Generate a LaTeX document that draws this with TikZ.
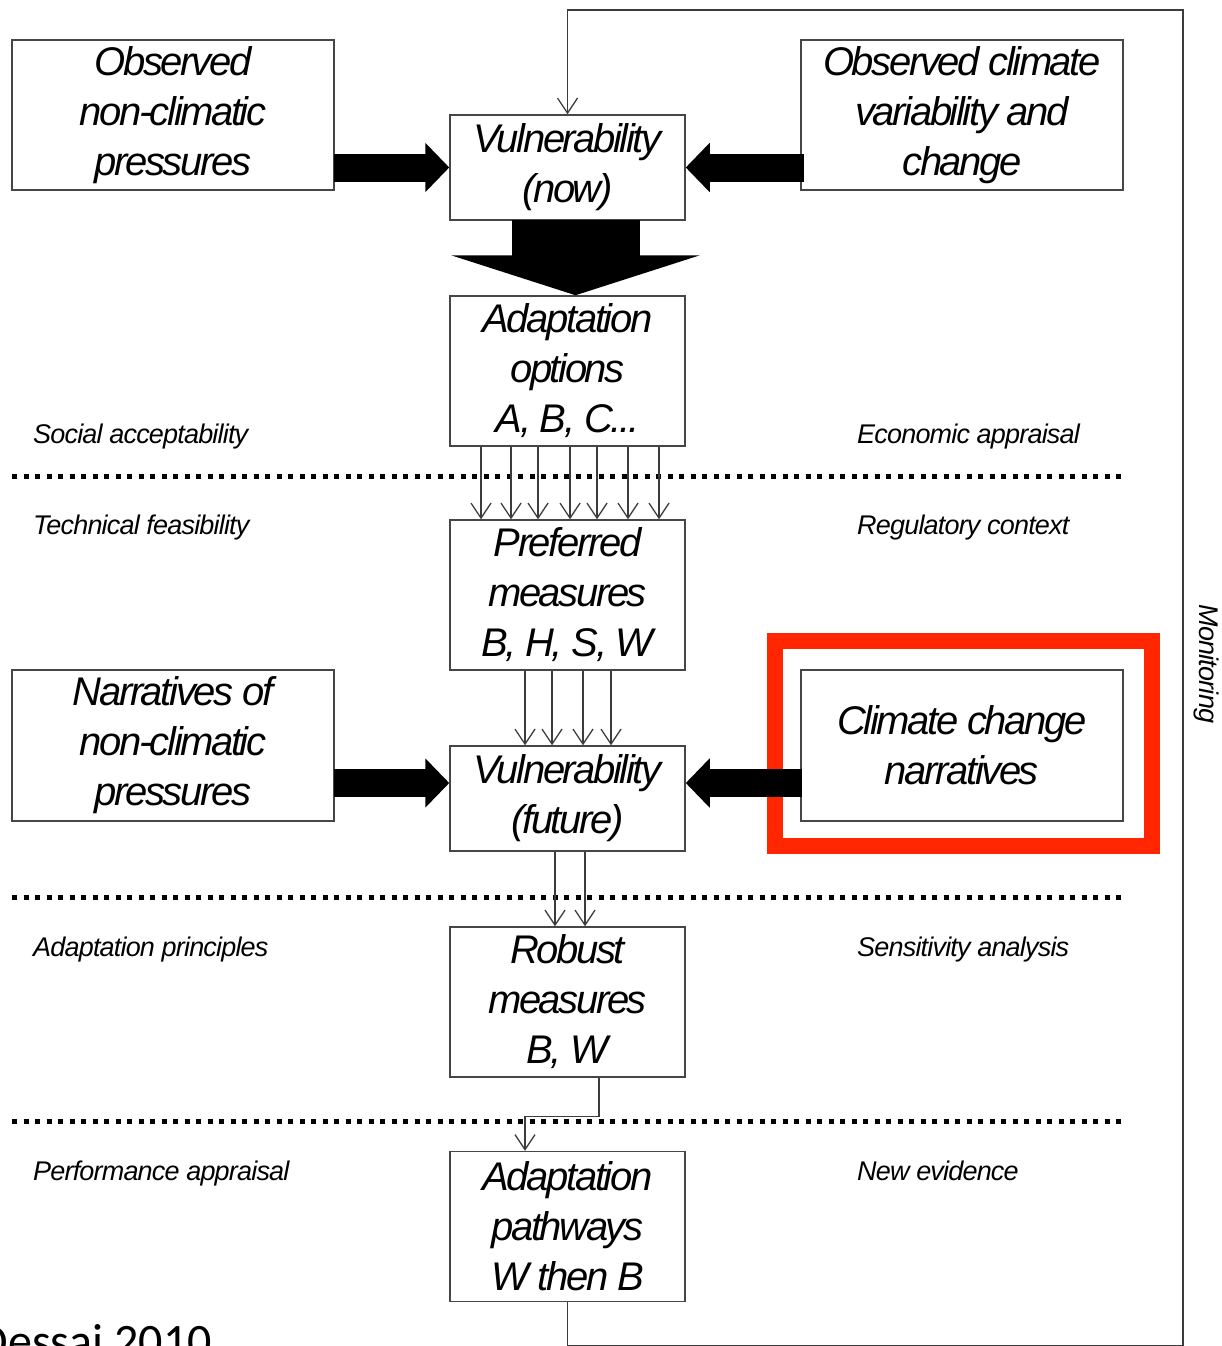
\documentclass[tikz,border=0pt]{standalone}
\usepackage{fontspec}
\setmainfont{Liberation Sans}
\newfontfamily\dfont{Liberation Sans}[LetterSpace=-6]
\newfontfamily\lfont{Liberation Sans}[LetterSpace=-3]
\newfontfamily\cfont{Carlito}
\usetikzlibrary{arrows.meta,calc}
\definecolor{boxgray}{RGB}{70,70,70}
\definecolor{linegray}{RGB}{60,60,60}
\definecolor{hl}{RGB}{255,38,0}
\tikzset{
  box/.style={draw=boxgray, line width=1.5pt, fill=white, minimum width=235pt,
    minimum height=150pt, inner sep=0pt, align=center,
    font=\dfont\itshape\fontsize{40}{50}\selectfont},
  wbox/.style={box, minimum width=322pt},
  lowbox/.style={box, minimum height=105pt},
  lab/.style={anchor=base west, inner sep=0pt, font=\lfont\itshape\fontsize{27}{30}\selectfont},
  thinarr/.style={draw=linegray, line width=1.3pt,
    -{Straight Barb[length=15pt,width=20pt,line width=1.3pt]}},
  fatarr/.style={draw=black, line width=28pt, -{Triangle[length=24pt,width=48pt]}},
  bigarr/.style={draw=black, line width=128pt, -{Triangle[length=40pt,width=248pt]}},
  dotline/.style={draw=black, line width=5pt, dash pattern=on 5pt off 6.5pt},
  loopline/.style={draw=linegray, line width=1.5pt,
    -{Straight Barb[length=15pt,width=20pt,line width=1.3pt]}},
  redframe/.style={draw=hl, line width=16pt},
}
\begin{document}
\begin{tikzpicture}[x=1pt,y=-1pt]
\useasboundingbox (0,0) rectangle (1222,1346);
\clip (0,0) rectangle (1222,1346);
\fill[white] (0,0) rectangle (1222,1346);

% separators
\coordinate (d1l) at (12,476);  \coordinate (d1r) at (1123,476);
\coordinate (d2l) at (12,897);  \coordinate (d2r) at (1123,897);
\coordinate (d3l) at (12,1121); \coordinate (d3r) at (1123,1121);
\draw[dotline] (d1l) -- (d1r);
\draw[dotline] (d2l) -- (d2r);
\draw[dotline] (d3l) -- (d3r);

% boxes
\node[wbox]   (obsnc)  at (173,115)     {Observed\\non-climatic\\pressures};
\node[lowbox] (vnow)   at (567.5,167.5) {Vulnerability\\(now)};
\node[wbox]   (obscl)  at (962,115)     {Observed climate\\variability and\\change};
\node[box]    (adopt)  at (567.5,371)   {Adaptation\\options\\A, B, C...};
\node[box]    (pref)   at (567.5,595)   {Preferred\\measures\\B, H, S, W};
\node[wbox, minimum height=151pt] (narr) at (173,745.5) {Narratives of\\non-climatic\\pressures};
\node[lowbox] (vfut)   at (567.5,798.5) {Vulnerability\\(future)};
\node[wbox, minimum height=151pt] (ccn) at (962,745.5) {Climate change\\narratives};
\node[box]    (robust) at (567.5,1002)  {Robust\\measures\\B, W};
\node[box]    (path)   at (567.5,1226.5){Adaptation\\pathways\\W then B};

% side labels
\node[lab] (l1) at (33,443)  {Social acceptability};
\node[lab] (l2) at (33,534)  {Technical feasibility};
\node[lab] (l3) at (33,956)  {Adaptation principles};
\node[lab] (l4) at (33,1180) {Performance appraisal};
\node[lab] (r1) at (857,443)  {Economic appraisal};
\node[lab] (r2) at (857,534)  {Regulatory context};
\node[lab] (r3) at (857,956)  {Sensitivity analysis};
\node[lab] (r4) at (857,1180) {New evidence};

% highlight
\draw[redframe] ($(ccn.north west)+(-25,-28)$) rectangle ($(ccn.south east)+(28,24)$);

% thick arrows
\coordinate (fy) at (0,783);
\draw[fatarr] ([xshift=-1pt]obsnc.east |- vnow.west) -- (vnow.west);
\draw[fatarr] ([xshift=4pt]obscl.west |- vnow.east) -- (vnow.east);
\draw[fatarr] ([xshift=-1pt]narr.east |- fy) -- (vfut.west |- fy);
\draw[fatarr] ([xshift=2pt]ccn.west |- fy) -- (vfut.east |- fy);
\draw[bigarr] ([xshift=8pt,yshift=1pt]vnow.south) -- ([xshift=8pt]adopt.north);

% thin arrows
\foreach \dx in {-86.5,-56.5,-29.5,2.5,29.5,60.5,91.5}
  \draw[thinarr] ([xshift=\dx pt]adopt.south) -- ([xshift=\dx pt]pref.north);
\foreach \dx in {-42.5,-15.5,15.5,43.5}
  \draw[thinarr] ([xshift=\dx pt]pref.south) -- ([xshift=\dx pt]vfut.north);
\foreach \dx in {-12.5,17.5}
  \draw[thinarr] ([xshift=\dx pt]vfut.south) -- ([xshift=\dx pt]robust.north);
\draw[thinarr] ([xshift=31.5pt]robust.south) -- ++(0,39) -| ([xshift=-42.5pt]path.north);

% monitoring loop
\coordinate (c1) at (1183,1346);
\coordinate (c2) at (1183,10);
\draw[loopline] (path.south) |- (c1) -- (c2) -| (vnow.north);
\node[rotate=-90, inner sep=0pt, font=\lfont\itshape\fontsize{27}{30}\selectfont] (mon) at (1206,664) {Monitoring};

% citation
\node[anchor=base east, inner sep=0pt, font=\cfont\fontsize{48}{48}\selectfont] (cite) at (212,1357) {Dessai 2010};
\end{tikzpicture}
\end{document}
